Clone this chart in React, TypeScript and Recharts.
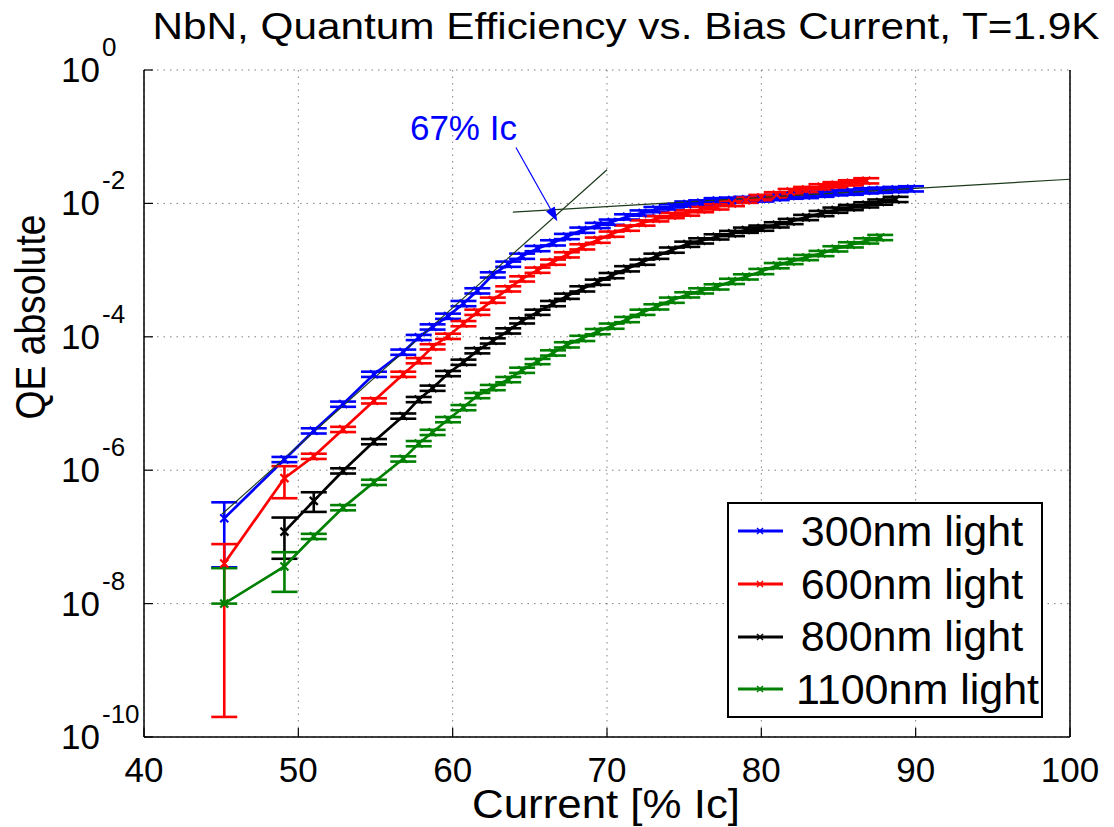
import React from 'react'
import {
  LineChart,
  Line,
  XAxis,
  YAxis,
  CartesianGrid,
  ErrorBar,
  Legend,
  ReferenceLine,
  Label,
} from 'recharts'

const FONT = '"Liberation Sans", Arial, Helvetica, sans-serif'

const xTicks = [40, 50, 60, 70, 80, 90, 100]
const yTicks = [1e-10, 1e-8, 1e-6, 1e-4, 1e-2, 1]

// bias current in % of Ic
const current300 = [
  45.2, 49.1, 51.0, 52.9, 54.9, 56.8, 57.8, 58.7, 59.7, 60.7,
  61.6, 62.6, 63.6, 64.5, 65.5, 66.5, 67.4, 68.4, 69.4, 70.3,
  71.3, 72.3, 73.2, 74.2, 75.2, 76.1, 77.1, 78.1, 79.0, 80.0,
  81.0, 81.9, 82.9, 83.9, 84.8, 85.8, 86.8, 87.7, 88.7, 89.7,
]
const qe300 = [
  1.9e-7, 1.45e-6, 3.9e-6, 9.8e-6, 2.75e-5, 5.9e-5, 9.8e-5, 1.41e-4, 2.04e-4, 3.16e-4,
  4.9e-4, 8.5e-4, 1.23e-3, 1.62e-3, 2.11e-3, 2.57e-3, 3.2e-3, 3.98e-3, 4.68e-3, 5.25e-3,
  6.3e-3, 7.2e-3, 8.1e-3, 8.9e-3, 9.8e-3, 1.02e-2, 1.1e-2, 1.12e-2, 1.15e-2, 1.17e-2,
  1.23e-2, 1.29e-2, 1.32e-2, 1.38e-2, 1.45e-2, 1.48e-2, 1.55e-2, 1.58e-2, 1.62e-2, 1.66e-2,
]

const current600 = [
  45.2, 49.1, 51.0, 52.9, 54.9, 56.8, 57.8, 58.7, 59.7, 60.7,
  61.6, 62.6, 63.6, 64.5, 65.5, 66.5, 67.4, 68.4, 69.4, 70.3,
  71.3, 72.3, 73.2, 74.2, 75.2, 76.1, 77.1, 78.1, 79.0, 80.0,
  81.0, 81.9, 82.9, 83.9, 84.8, 85.8, 86.8,
]
const qe600 = [
  4.0e-8, 7.6e-7, 1.62e-6, 4.1e-6, 1.1e-5, 2.75e-5, 4.4e-5, 7.1e-5, 1.02e-4, 1.58e-4,
  2.34e-4, 3.55e-4, 5.25e-4, 7.4e-4, 1.0e-3, 1.32e-3, 1.7e-3, 2.24e-3, 2.82e-3, 3.47e-3,
  4.27e-3, 5.1e-3, 5.9e-3, 6.6e-3, 7.2e-3, 8.1e-3, 8.9e-3, 1.0e-2, 1.12e-2, 1.23e-2,
  1.35e-2, 1.51e-2, 1.62e-2, 1.78e-2, 1.91e-2, 2.04e-2, 2.19e-2,
]

const current800 = [
  49.1, 51.0, 52.9, 54.9, 56.8, 57.8, 58.7, 59.7, 60.7,
  61.6, 62.6, 63.6, 64.5, 65.5, 66.5, 67.4, 68.4, 69.4, 70.3,
  71.3, 72.3, 73.2, 74.2, 75.2, 76.1, 77.1, 78.1, 79.0, 80.0,
  81.0, 81.9, 82.9, 83.9, 84.8, 85.8, 86.8, 87.7, 88.7,
]
const qe800 = [
  1.2e-7, 3.47e-7, 9.8e-7, 2.69e-6, 6.5e-6, 1.15e-5, 1.7e-5, 2.82e-5, 4.17e-5,
  6.2e-5, 8.7e-5, 1.23e-4, 1.74e-4, 2.34e-4, 3.16e-4, 4.07e-4, 5.25e-4, 6.6e-4, 8.3e-4,
  1.05e-3, 1.32e-3, 1.62e-3, 2.0e-3, 2.45e-3, 2.75e-3, 3.16e-3, 3.55e-3, 3.98e-3, 4.27e-3,
  4.79e-3, 5.37e-3, 6.17e-3, 7.08e-3, 7.94e-3, 8.71e-3, 9.55e-3, 1.05e-2, 1.15e-2,
]

const current1100 = [
  45.2, 49.1, 51.0, 52.9, 54.9, 56.8, 57.8, 58.7, 59.7, 60.7,
  61.6, 62.6, 63.6, 64.5, 65.5, 66.5, 67.4, 68.4, 69.4, 70.3,
  71.3, 72.3, 73.2, 74.2, 75.2, 76.1, 77.1, 78.1, 79.0, 80.0,
  81.0, 81.9, 82.9, 83.9, 84.8, 85.8, 86.8, 87.7,
]
const qe1100 = [
  1.0e-8, 3.6e-8, 1.02e-7, 2.75e-7, 6.6e-7, 1.48e-6, 2.51e-6, 3.7e-6, 5.75e-6, 8.7e-6,
  1.32e-5, 1.74e-5, 2.29e-5, 3.16e-5, 4.27e-5, 5.75e-5, 7.6e-5, 9.5e-5, 1.2e-4, 1.45e-4,
  1.82e-4, 2.34e-4, 2.82e-4, 3.55e-4, 4.27e-4, 4.9e-4, 5.62e-4, 6.8e-4, 7.94e-4, 9.55e-4,
  1.17e-3, 1.35e-3, 1.55e-3, 1.78e-3, 2.09e-3, 2.4e-3, 2.75e-3, 3.09e-3,
]

// the small "=" error bars are about +-9% everywhere
const REL_ERR = 0.09
// wide error bars at the lowest currents, [below, above]
const err300 = [[1.55e-7, 1.4e-7]]
const err600 = [[3.98e-8, 3.8e-8], [3.8e-7, 3.9e-7]]
const err800 = [[7.3e-8, 7.5e-8], [1.1e-7, 1.2e-7]]
const err1100 = [[0, 2.4e-8], [2.1e-8, 2.3e-8]]

// fitted lines and the 67% Ic arrow
const tangentSteep = [{ x: 45.06, y: 2.2e-7 }, { x: 70, y: 3.2e-2 }]
const tangentFlat = [{ x: 63.9, y: 7.4e-3 }, { x: 100, y: 2.3e-2 }]
const arrow67 = [{ x: 64.1, y: 6.9e-2 }, { x: 66.78, y: 5.4e-3 }]

function buildSeries(current: number[], qe: number[], bigErr: number[][]) {
  return current.map((c, i) => ({
    current: c,
    qe: qe[i],
    err: bigErr[i] ?? [qe[i] * REL_ERR, qe[i] * REL_ERR],
  }))
}

const series = [
  { name: '300nm light', color: '#0000ff', data: buildSeries(current300, qe300, err300) },
  { name: '600nm light', color: '#ff0000', data: buildSeries(current600, qe600, err600) },
  { name: '800nm light', color: '#000000', data: buildSeries(current800, qe800, err800) },
  { name: '1100nm light', color: '#008000', data: buildSeries(current1100, qe1100, err1100) },
]
const seriesOrder = series.map((s) => s.name)

const crossDot = (color: string) => (p: any) => {
  const { cx, cy, index } = p
  if (cx == null || cy == null) return <g key={index} />
  const s = 4
  return (
    <path
      key={index}
      d={`M${cx - s},${cy - s}L${cx + s},${cy + s}M${cx - s},${cy + s}L${cx + s},${cy - s}`}
      stroke={color}
      strokeWidth={2.2}
      fill="none"
    />
  )
}

function XTick(props: any) {
  const { x, y, payload } = props
  return (
    <g>
      <line x1={x} y1={y} x2={x} y2={y - 9} stroke="#000" strokeWidth={1.2} />
      <text x={x} y={y + 45} textAnchor="middle" fontSize={35} fontFamily={FONT} fill="#000">
        {payload.value}
      </text>
    </g>
  )
}

function YTick(props: any) {
  const { x, y, payload } = props
  const exp = Math.round(Math.log10(payload.value))
  return (
    <g>
      <line x1={x} y1={y} x2={x + 9} y2={y} stroke="#000" strokeWidth={1.2} />
      <text x={x - 44} y={y + 12} textAnchor="end" fontSize={35} fontFamily={FONT} fill="#000">
        10
      </text>
      <text x={x - 42} y={y - 14} textAnchor="start" fontSize={26} fontFamily={FONT} fill="#000">
        {exp}
      </text>
    </g>
  )
}

// title and x-axis name, drawn as the bottom axis label
const XTitles = () => (
  <g>
    <text
      x={626}
      y={39}
      textAnchor="middle"
      fontSize={37}
      fontFamily={FONT}
      fill="#000"
      textLength={947}
      lengthAdjust="spacingAndGlyphs"
    >
      NbN, Quantum Efficiency vs. Bias Current, T=1.9K
    </text>
    <text
      x={606}
      y={818}
      textAnchor="middle"
      fontSize={40}
      fontFamily={FONT}
      fill="#000"
      textLength={268}
      lengthAdjust="spacingAndGlyphs"
    >
      Current [% Ic]
    </text>
  </g>
)

const YTitle = () => (
  <text
    transform="translate(45,317) scale(1.1,1) rotate(-90)"
    textAnchor="middle"
    fontSize={38}
    fontFamily={FONT}
    fill="#000"
    textLength={205}
    lengthAdjust="spacingAndGlyphs"
  >
    QE absolute
  </text>
)

function ArrowShape(props: any) {
  const { x1, y1, x2, y2 } = props
  const a = Math.atan2(y2 - y1, x2 - x1)
  const len = 14
  const half = 5
  const bx = x2 - len * Math.cos(a)
  const by = y2 - len * Math.sin(a)
  const pts = [
    `${x2},${y2}`,
    `${bx + half * Math.sin(a)},${by - half * Math.cos(a)}`,
    `${bx - half * Math.sin(a)},${by + half * Math.cos(a)}`,
  ].join(' ')
  return (
    <g>
      <line x1={x1} y1={y1} x2={bx} y2={by} stroke="#0000ff" strokeWidth={1.2} />
      <polygon points={pts} fill="#0000ff" />
      <text x={x1 + 1} y={y1 - 7} textAnchor="end" fontSize={35} fontFamily={FONT} fill="#0000ff">
        67% Ic
      </text>
    </g>
  )
}

function LegendBox(props: any) {
  const items = (props.payload || [])
    .filter((p: any) => seriesOrder.includes(p.value))
    .sort((a: any, b: any) => seriesOrder.indexOf(a.value) - seriesOrder.indexOf(b.value))
  return (
    <div
      style={{
        width: 316,
        height: 216,
        boxSizing: 'border-box',
        border: '2px solid #000',
        background: '#fff',
        paddingTop: 1,
      }}
    >
      {items.map((item: any) => (
        <div key={item.value} style={{ display: 'flex', alignItems: 'center', height: 52.7 }}>
          <svg width={60} height={20} style={{ marginLeft: 7, flex: 'none' }}>
            <line x1={2} y1={10} x2={47} y2={10} stroke={item.color} strokeWidth={3} />
            <path d="M21,7L27,13M21,13L27,7" stroke={item.color} strokeWidth={1.5} />
          </svg>
          <span
            style={{
              flex: 1,
              textAlign: 'center',
              paddingRight: 13,
              fontSize: 43,
              fontFamily: FONT,
              lineHeight: 1,
              color: '#000',
              whiteSpace: 'nowrap',
            }}
          >
            {item.value}
          </span>
        </div>
      ))}
    </div>
  )
}

export default function App() {
  const axisLine = { stroke: '#000', strokeWidth: 1.5 }
  const tickLine = { stroke: '#000', strokeWidth: 1.2 }
  return (
    <div style={{ width: 1114, height: 827, background: '#fff' }}>
      <style>{'body{margin:0;background:#fff}'}</style>
      <LineChart width={1114} height={827} margin={{ top: 70, right: 44, bottom: 0, left: 0 }}>
        <CartesianGrid stroke="#000" strokeOpacity={0.5} strokeDasharray="1.5 5" />
        <XAxis
          type="number"
          dataKey="current"
          domain={[40, 100]}
          ticks={xTicks}
          allowDataOverflow
          interval={0}
          height={90}
          tick={XTick}
          tickLine={false}
          tickSize={0}
          tickMargin={0}
          axisLine={axisLine}
        >
          <Label content={XTitles} />
        </XAxis>
        <XAxis
          xAxisId="top"
          orientation="top"
          mirror
          type="number"
          dataKey="current"
          domain={[40, 100]}
          ticks={xTicks}
          allowDataOverflow
          interval={0}
          height={0}
          tick={false}
          tickSize={9}
          tickLine={tickLine}
          axisLine={axisLine}
        />
        <YAxis
          type="number"
          scale="log"
          domain={[1e-10, 1]}
          ticks={yTicks}
          allowDataOverflow
          interval={0}
          width={144}
          tick={YTick}
          tickLine={false}
          tickSize={0}
          tickMargin={0}
          axisLine={axisLine}
        >
          <Label content={YTitle} />
        </YAxis>
        <YAxis
          yAxisId="right"
          orientation="right"
          mirror
          type="number"
          scale="log"
          domain={[1e-10, 1]}
          ticks={yTicks}
          allowDataOverflow
          interval={0}
          tick={false}
          tickSize={9}
          tickLine={tickLine}
          axisLine={axisLine}
        />
        {series.map((s) => (
          <Line
            key={s.name}
            data={s.data}
            dataKey="qe"
            name={s.name}
            stroke={s.color}
            strokeWidth={2.7}
            dot={crossDot(s.color)}
            activeDot={false}
            isAnimationActive={false}
          >
            <ErrorBar
              dataKey="err"
              direction="y"
              width={13}
              stroke={s.color}
              strokeWidth={2.6}
              isAnimationActive={false}
            />
          </Line>
        ))}
        <ReferenceLine segment={tangentSteep} stroke="#1c3a1c" strokeWidth={1.2} ifOverflow="visible" />
        <ReferenceLine segment={tangentFlat} stroke="#1c3a1c" strokeWidth={1.2} ifOverflow="visible" />
        <ReferenceLine segment={arrow67} shape={ArrowShape} ifOverflow="visible" />
        <Legend
          layout="vertical"
          align="center"
          verticalAlign="middle"
          content={LegendBox}
          wrapperStyle={{ left: 727, top: 502, width: 316, height: 216 }}
        />
      </LineChart>
    </div>
  )
}
